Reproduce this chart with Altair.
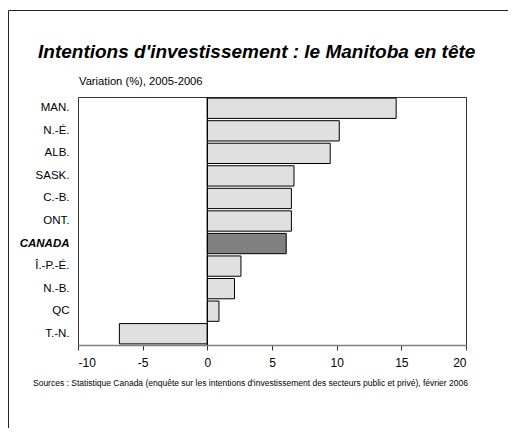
import altair as alt
import pandas as pd

categories = ["MAN.", "N.-É.", "ALB.", "SASK.", "C.-B.", "ONT.", "CANADA", "Î.-P.-É.", "N.-B.", "QC", "T.-N."]
values = [14.6, 10.2, 9.5, 6.7, 6.5, 6.5, 6.1, 2.6, 2.1, 0.9, -6.8]
x_ticks = [-10, -5, 0, 5, 10, 15, 20]

title_text = "Intentions d'investissement : le Manitoba en tête"
subtitle_text = "Variation (%), 2005-2006"
source_text = "Sources : Statistique Canada (enquête sur les intentions d'investissement des secteurs public et privé), février 2006"

NARROW = "Liberation Sans Narrow, Arial Narrow, Liberation Sans, Arial, sans-serif"
SANS = "Liberation Sans, Arial, sans-serif"

df = pd.DataFrame({"prov": categories, "val": values})
one = pd.DataFrame({"a": [0]})

W, H = 388, 248

xscale = alt.Scale(domain=[-10, 20], nice=False, zero=False)

bars = alt.Chart(df).mark_bar(stroke="black", strokeWidth=1).encode(
    x=alt.X("val:Q", scale=xscale,
            axis=alt.Axis(values=x_ticks, title=None, grid=False, domainColor="#808080",
                          domainWidth=1.5, tickColor="#333333", tickSize=5, labelFontSize=12,
                          labelFont=SANS, labelColor="black", labelPadding=7,
                          labelExpr="'' + datum.value")),
    y=alt.Y("prov:N", sort=categories,
            scale=alt.Scale(paddingInner=0.1, paddingOuter=0.05),
            axis=alt.Axis(title=None, ticks=False, domain=False, labelFontSize=11.5,
                          labelFont=NARROW, labelColor="black", labelPadding=9,
                          labelFontWeight=alt.condition("datum.value == 'CANADA'", alt.value("bold"), alt.value("normal")),
                          labelFontStyle=alt.condition("datum.value == 'CANADA'", alt.value("italic"), alt.value("normal")))),
    color=alt.condition(alt.datum.prov == "CANADA", alt.value("#808080"), alt.value("#e0e0e0")),
)

zero = alt.Chart(one).mark_rule(color="black", strokeWidth=1.2).encode(
    x=alt.datum(0, scale=xscale), y=alt.value(0), y2=alt.value(H)
)

title = alt.Chart(one).mark_text(text=title_text, align="left", baseline="alphabetic",
                                  font=SANS, fontSize=19, fontWeight="bold", fontStyle="italic",
                                  color="black").encode(x=alt.value(-40), y=alt.value(-39))
subtitle = alt.Chart(one).mark_text(text=subtitle_text, align="left", baseline="alphabetic",
                                     font=NARROW, fontSize=11.2, color="black").encode(
    x=alt.value(1), y=alt.value(-12))
source = alt.Chart(one).mark_text(text=source_text, align="left", baseline="alphabetic",
                                   font=NARROW, fontSize=8.5, color="black").encode(
    x=alt.value(-45), y=alt.value(289))

frame_top = alt.Chart(one).mark_rule(color="#222222", strokeWidth=1).encode(
    x=alt.value(-69.5), x2=alt.value(430), y=alt.value(-86.5))
frame_left = alt.Chart(one).mark_rule(color="#222222", strokeWidth=1).encode(
    x=alt.value(-69.5), y=alt.value(-86.5), y2=alt.value(331))

chart = alt.layer(bars, zero, title, subtitle, source, frame_top, frame_left).properties(
    width=W, height=H,
    autosize=alt.AutoSizeParams(type="none"),
    padding={"left": 70, "top": 89, "right": 42, "bottom": 84},
).configure_view(stroke="#333333", strokeWidth=1)

chart.save("out.html", embed_options={"renderer": "svg", "actions": False})
